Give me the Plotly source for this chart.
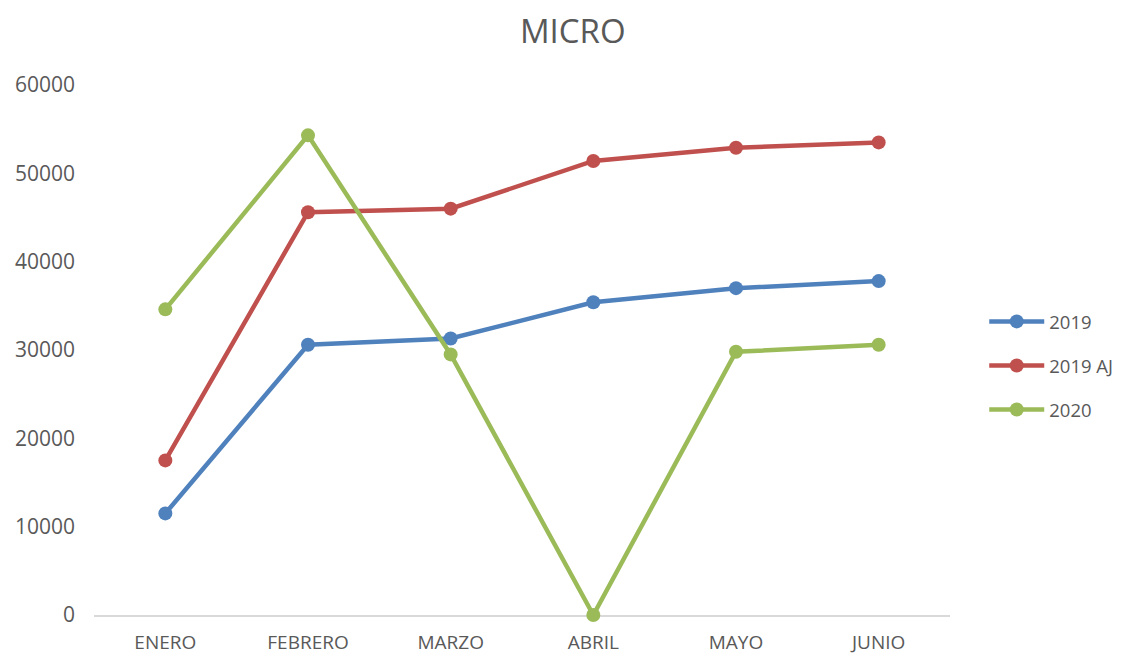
import plotly.graph_objects as go

months = ["ENERO", "FEBRERO", "MARZO", "ABRIL", "MAYO", "JUNIO"]
s2019 = [11500, 30600, 31300, 35400, 37000, 37800]
s2019aj = [17500, 45600, 46000, 51400, 52900, 53500]
s2020 = [34600, 54300, 29500, 0, 29800, 30600]

series = [("2019", s2019, "#4F81BD"), ("2019 AJ", s2019aj, "#C0504D"), ("2020", s2020, "#9BBB59")]

fig = go.Figure()
for name, vals, col in series:
    fig.add_trace(go.Scatter(x=months, y=vals, name=name, mode="lines+markers",
                             legendgroup=name, cliponaxis=False,
                             line=dict(color=col, width=4.5),
                             marker=dict(color=col, size=14)))

font = "Open Sans, Lato, sans-serif"
fig.update_layout(
    width=1125, height=656,
    margin=dict(l=86, r=183, t=77, b=49, autoexpand=False),
    paper_bgcolor="white", plot_bgcolor="white",
    font=dict(family=font, color="#595959", size=20),
    title=dict(text="MICRO", x=0.502, xanchor="center", y=0.965, yanchor="middle",
               font=dict(size=33, color="#595959", family=font)),
    showlegend=True,
    legend=dict(x=1.040, xanchor="left", y=0.47, yanchor="middle",
                font=dict(size=18.5, color="#595959"), tracegroupgap=17,
                itemwidth=55, bgcolor="rgba(0,0,0,0)"),
    xaxis=dict(showgrid=False, showline=True, linecolor="#D9D9D9", linewidth=1.5,
               ticks="", tickfont=dict(size=19), range=[-0.5, 5.5],
               automargin=False, ticklabelstandoff=9, layer="below traces"),
    yaxis=dict(range=[0, 60000], dtick=10000, tickformat="d", showgrid=False, zeroline=False,
               showline=False, ticks="", tickfont=dict(size=21), ticklabelstandoff=18,
               automargin=False),
)
fig.write_html("out.html")
